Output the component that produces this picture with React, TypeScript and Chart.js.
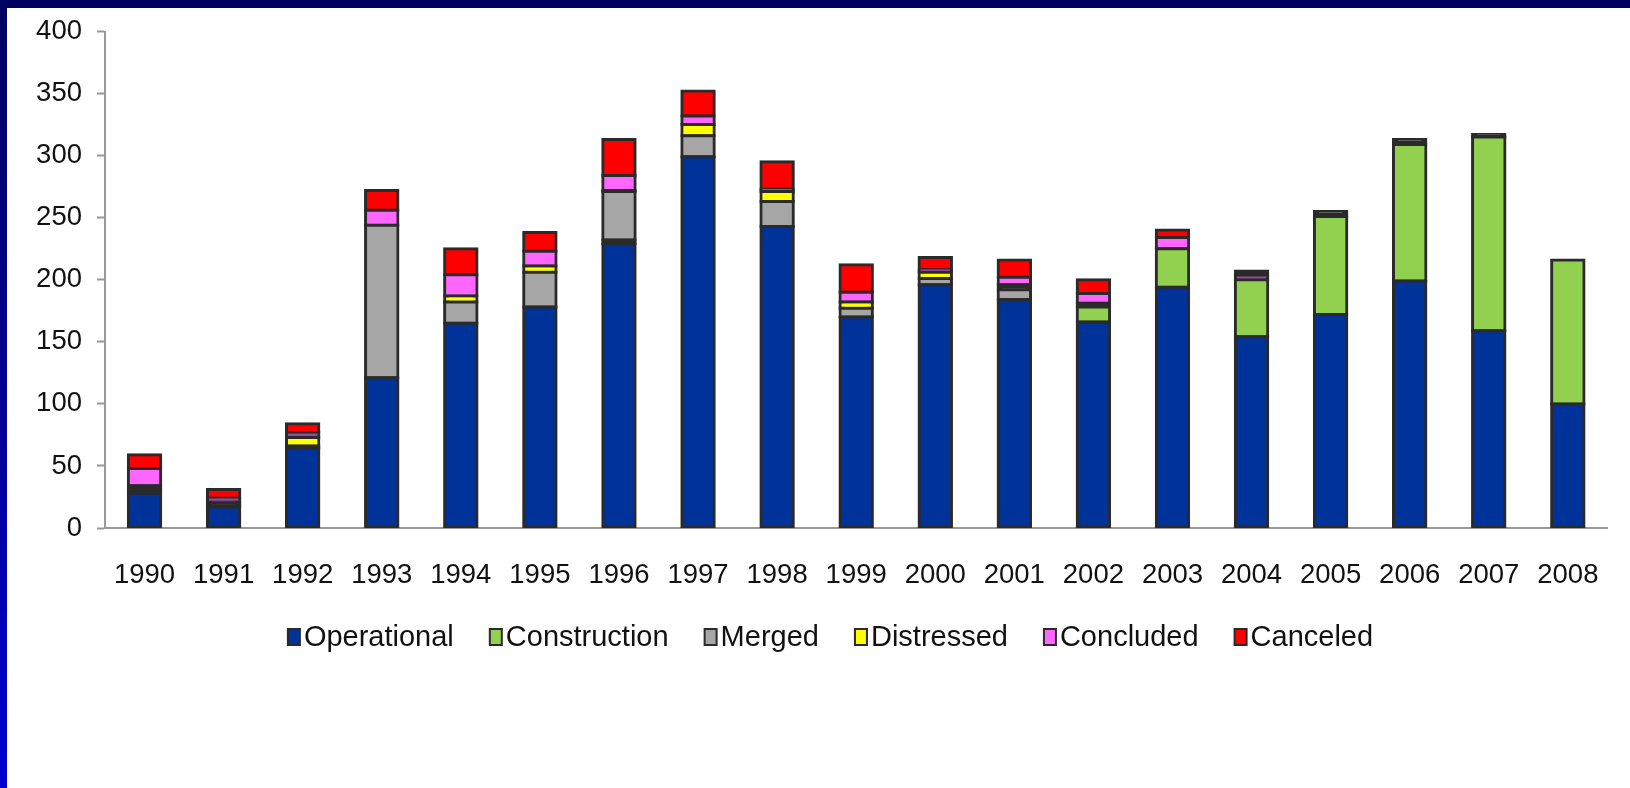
import React, { useEffect, useRef } from "react";
import { Chart, registerables } from "chart.js";

Chart.register(...registerables);

const years = ["1990", "1991", "1992", "1993", "1994", "1995", "1996", "1997", "1998", "1999", "2000", "2001", "2002", "2003", "2004", "2005", "2006", "2007", "2008"];
const operational = [28, 17, 64, 121, 165, 178, 229, 299, 243, 170, 196, 184, 166, 194, 154, 172, 199, 159, 100];
const construction = [0, 0, 0, 0, 0, 0, 3, 0, 0, 0, 0, 0, 12, 31, 46, 79, 110, 156, 116];
const merged = [3, 2, 2, 123, 17, 28, 39, 17, 20, 7, 5, 8, 3, 0, 0, 0, 0, 0, 0];
const distressed = [3, 2, 7, 0, 5, 5, 1, 9, 8, 5, 5, 4, 0, 0, 0, 0, 0, 0, 0];
const concluded = [14, 3, 4, 12, 17, 12, 12, 7, 2, 8, 2, 6, 8, 9, 3, 0, 0, 0, 0];
const canceled = [11, 7, 7, 16, 21, 15, 29, 20, 22, 22, 10, 14, 11, 6, 4, 4, 4, 2, 0];

const seriesNames = ["Operational", "Construction", "Merged", "Distressed", "Concluded", "Canceled"];
const seriesColors = ["#003399", "#92D050", "#A6A6A6", "#FFFF00", "#FF66FF", "#FF0000"];
const seriesData = [operational, construction, merged, distressed, concluded, canceled];

const FONT = "'Liberation Sans', Arial, Helvetica, sans-serif";
const TEXT = "#111111";
const EDGE = "#2a2a2a";
const AXIS = "#999999";
const THIN_CONCLUDED = "#9a4a9a";

const legendPlugin = {
  id: "customLegend",
  afterDraw(chart: any, _args: any, opts: any) {
    const ctx = chart.ctx;
    ctx.save();
    ctx.font = `${opts.fontSize}px ${FONT}`;
    const items = chart.data.datasets.map((ds: any, i: number) => ({
      text: ds.label,
      color: seriesColors[i],
      w: ctx.measureText(ds.label).width,
    }));
    const boxW = opts.boxW, boxH = opts.boxH, boxGap = opts.boxGap, gap = opts.gap;
    let total = 0;
    items.forEach((it: any, i: number) => {
      total += boxW + boxGap + it.w + (i < items.length - 1 ? gap : 0);
    });
    let x = opts.centerX - total / 2;
    const y = opts.y;
    ctx.textBaseline = "middle";
    ctx.textAlign = "left";
    items.forEach((it: any) => {
      ctx.fillStyle = EDGE;
      ctx.fillRect(x, y - boxH / 2, boxW, boxH);
      ctx.fillStyle = it.color;
      ctx.fillRect(x + 2, y - boxH / 2 + 2, boxW - 4, boxH - 4);
      ctx.fillStyle = TEXT;
      ctx.fillText(it.text, x + boxW + boxGap, y + 1);
      x += boxW + boxGap + it.w + gap;
    });
    ctx.restore();
  },
};

export default function App() {
  const ref = useRef<HTMLCanvasElement | null>(null);
  useEffect(() => {
    if (!ref.current) return;
    const chart = new Chart(ref.current, {
      type: "bar",
      data: {
        labels: years,
        datasets: seriesNames.map((name, i) => ({
          label: name,
          data: seriesData[i],
          backgroundColor: (c: any) => {
            const v = c.raw;
            if (typeof v === "number" && v > 0 && v <= 4) return i === 4 ? THIN_CONCLUDED : EDGE;
            return seriesColors[i];
          },
          borderColor: EDGE,
          borderWidth: 3,
          inflateAmount: 1.5,
          borderSkipped: false,
          barPercentage: 0.41,
          categoryPercentage: 1,
        })),
      },
      options: {
        responsive: false,
        devicePixelRatio: 1,
        animation: false,
        layout: { padding: { top: 27, right: 22, bottom: 0, left: 0 } },
        plugins: {
          legend: { display: false },
          tooltip: { enabled: false },
          customLegend: { fontSize: 29, boxW: 14, boxH: 18, boxGap: 3, gap: 35, centerX: 830, y: 637 },
        } as any,
        scales: {
          x: {
            stacked: true,
            offset: true,
            grid: { display: true, drawOnChartArea: false, drawTicks: false },
            border: { display: true, color: AXIS, width: 2 },
            ticks: { font: { size: 27.5, family: FONT }, color: TEXT, padding: 31, maxRotation: 0, autoSkip: false },
            afterFit: (s: any) => { s.height = 260; },
          },
          y: {
            stacked: true,
            min: 0,
            max: 400,
            ticks: { stepSize: 50, font: { size: 27.5, family: FONT }, color: TEXT, padding: 15 },
            grid: { display: true, drawOnChartArea: false, drawTicks: true, tickLength: 8, tickColor: AXIS, tickWidth: 2 },
            border: { display: true, color: AXIS, width: 2 },
            afterFit: (s: any) => { s.width = 105; },
          },
        },
      },
      plugins: [legendPlugin],
    });
    return () => chart.destroy();
  }, []);

  return (
    <div style={{ position: "fixed", left: 0, top: 0, width: 1630, height: 788, background: "linear-gradient(to bottom, #000060 0%, #000090 50%, #0000d0 100%)" }}>
      <div style={{ position: "absolute", left: 7, top: 8, right: 0, bottom: 0, background: "#ffffff" }} />
      <canvas ref={ref} width={1630} height={788} style={{ position: "absolute", left: 0, top: 0 }} />
    </div>
  );
}
